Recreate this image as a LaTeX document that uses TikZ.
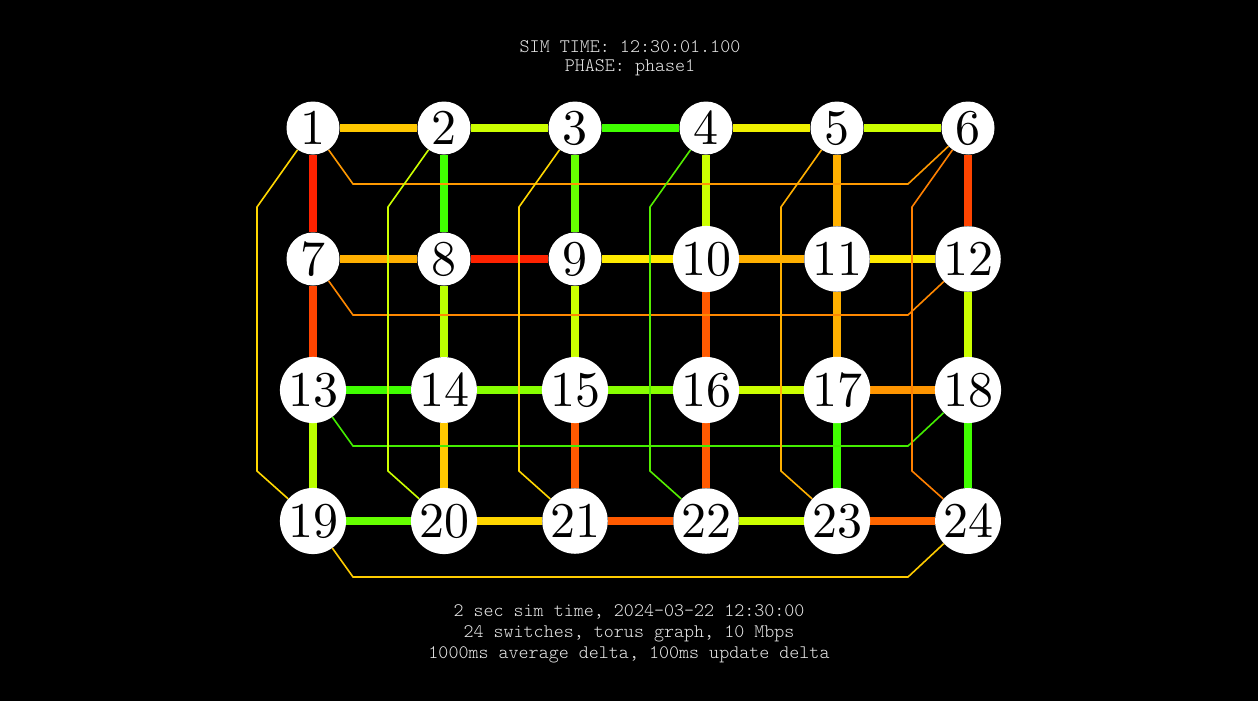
\documentclass[tikz,border=0pt]{standalone}
\usepackage{fontspec}
\newfontfamily\numfont{lmroman10-regular}[Extension=.otf]
\newfontfamily\infofont{lmmonolt10-regular}[Extension=.otf]
\usetikzlibrary{backgrounds}
\definecolor{infogray}{HTML}{E8E8E8}
\definecolor{cRed}{HTML}{FF2200}
\definecolor{cRedOr}{HTML}{FF4400}
\definecolor{cOrRed}{HTML}{FF5A00}
\definecolor{cOrRed2}{HTML}{FF6600}
\definecolor{cOrange}{HTML}{FF9500}
\definecolor{cAmber}{HTML}{FFB000}
\definecolor{cGold}{HTML}{FFC800}
\definecolor{cYellow}{HTML}{FFEB00}
\definecolor{cLime}{HTML}{CCFF00}
\definecolor{cYelGreen}{HTML}{BBFF00}
\definecolor{cLtGreen}{HTML}{88FF00}
\definecolor{cGreen}{HTML}{40FF00}
\definecolor{cGreen2}{HTML}{66FF00}
\definecolor{wOrange}{HTML}{FF9900}
\definecolor{wOrange2}{HTML}{FF8800}
\definecolor{wGreen}{HTML}{44EE00}
\definecolor{wGold}{HTML}{FFCC00}
\definecolor{wYellow}{HTML}{FFD700}
\definecolor{wLime}{HTML}{CCFF00}
\definecolor{wGreen2}{HTML}{55EE00}
\definecolor{wAmber}{HTML}{FFB000}
\definecolor{wOrange3}{HTML}{FF8000}
\begin{document}
\begin{tikzpicture}[x=1pt,y=-1pt,
  sw/.style={circle,fill=white,inner sep=2pt,minimum size=53pt,text=black,font=\numfont\fontsize{50}{50}\selectfont},
  lnk/.style={line width=7.5pt},
  wrap/.style={line width=1.6pt},
  info/.style={anchor=base,inner sep=0pt,text=infogray,font=\infofont\fontsize{19.1}{21}\selectfont}]
\useasboundingbox (0,0) rectangle (1258,701);
% switches
\node[sw] (n1) at (313,128) {1};
\node[sw] (n2) at (444,128) {2};
\node[sw] (n3) at (575,128) {3};
\node[sw] (n4) at (706,128) {4};
\node[sw] (n5) at (837,128) {5};
\node[sw] (n6) at (968,128) {6};
\node[sw] (n7) at (313,259) {7};
\node[sw] (n8) at (444,259) {8};
\node[sw] (n9) at (575,259) {9};
\node[sw] (n10) at (706,259) {10};
\node[sw] (n11) at (837,259) {11};
\node[sw] (n12) at (968,259) {12};
\node[sw] (n13) at (313,390) {13};
\node[sw] (n14) at (444,390) {14};
\node[sw] (n15) at (575,390) {15};
\node[sw] (n16) at (706,390) {16};
\node[sw] (n17) at (837,390) {17};
\node[sw] (n18) at (968,390) {18};
\node[sw] (n19) at (313,521) {19};
\node[sw] (n20) at (444,521) {20};
\node[sw] (n21) at (575,521) {21};
\node[sw] (n22) at (706,521) {22};
\node[sw] (n23) at (837,521) {23};
\node[sw] (n24) at (968,521) {24};
% texts
\node[info] (t1) at (630,52.5) {SIM TIME: 12:30:01.100};
\node[info] (t2) at (630,72) {PHASE: phase1};
\node[info] (b1) at (629,616) {2 sec sim time, 2024-03-22 12:30:00};
\node[info] (b2) at (629,637) {24 switches, torus graph, 10 Mbps};
\node[info] (b3) at (629,658) {1000ms average delta, 100ms update delta};
\begin{scope}[on background layer]
\fill[black] (0,0) rectangle (1258,701);
% horizontal links
\draw[lnk,cGold] (n1) -- (n2);
\draw[lnk,cLime] (n2) -- (n3);
\draw[lnk,cGreen] (n3) -- (n4);
\draw[lnk,cYellow!70!cLime] (n4) -- (n5);
\draw[lnk,cLime] (n5) -- (n6);
\draw[lnk,cAmber] (n7) -- (n8);
\draw[lnk,cRed] (n8) -- (n9);
\draw[lnk,cYellow] (n9) -- (n10);
\draw[lnk,cAmber] (n10) -- (n11);
\draw[lnk,cYellow] (n11) -- (n12);
\draw[lnk,cGreen] (n13) -- (n14);
\draw[lnk,cLtGreen] (n14) -- (n15);
\draw[lnk,cLtGreen] (n15) -- (n16);
\draw[lnk,cLime] (n16) -- (n17);
\draw[lnk,cOrange] (n17) -- (n18);
\draw[lnk,cGreen2] (n19) -- (n20);
\draw[lnk,cGold!60!cYellow] (n20) -- (n21);
\draw[lnk,cOrRed] (n21) -- (n22);
\draw[lnk,cLime] (n22) -- (n23);
\draw[lnk,cOrRed2] (n23) -- (n24);
% vertical links
\draw[lnk,cRed] (n1) -- (n7);
\draw[lnk,cRedOr] (n7) -- (n13);
\draw[lnk,cYelGreen] (n13) -- (n19);
\draw[lnk,cGreen] (n2) -- (n8);
\draw[lnk,cYelGreen] (n8) -- (n14);
\draw[lnk,cGold] (n14) -- (n20);
\draw[lnk,cGreen2] (n3) -- (n9);
\draw[lnk,cLime] (n9) -- (n15);
\draw[lnk,cOrRed] (n15) -- (n21);
\draw[lnk,cLime] (n4) -- (n10);
\draw[lnk,cOrRed] (n10) -- (n16);
\draw[lnk,cOrRed] (n16) -- (n22);
\draw[lnk,cAmber] (n5) -- (n11);
\draw[lnk,cAmber] (n11) -- (n17);
\draw[lnk,cGreen] (n17) -- (n23);
\draw[lnk,cRedOr] (n6) -- (n12);
\draw[lnk,cLime] (n12) -- (n18);
\draw[lnk,cGreen] (n18) -- (n24);
% row wrap links
\draw[wrap,wOrange] (n1) -- (353,184) -- (908,184) -- (n6);
\draw[wrap,wOrange2] (n7) -- (353,315) -- (908,315) -- (n12);
\draw[wrap,wGreen] (n13) -- (353,446) -- (908,446) -- (n18);
\draw[wrap,wGold] (n19) -- (353,577) -- (908,577) -- (n24);
% column wrap links
\draw[wrap,wYellow] (n1) -- (257,207) -- (257,471) -- (n19);
\draw[wrap,wLime] (n2) -- (388,207) -- (388,471) -- (n20);
\draw[wrap,wYellow] (n3) -- (519,207) -- (519,471) -- (n21);
\draw[wrap,wGreen2] (n4) -- (650,207) -- (650,471) -- (n22);
\draw[wrap,wAmber] (n5) -- (781,207) -- (781,471) -- (n23);
\draw[wrap,wOrange3] (n6) -- (912,207) -- (912,471) -- (n24);
\end{scope}
\end{tikzpicture}
\end{document}
